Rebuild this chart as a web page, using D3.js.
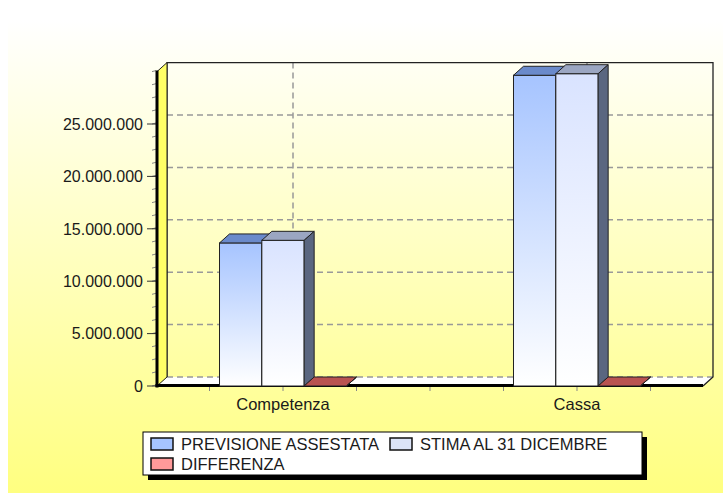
<!DOCTYPE html>
<html>
<head>
<meta charset="utf-8">
<script src="https://cdn.jsdelivr.net/npm/d3@7"></script>
<style>
  html, body { margin: 0; padding: 0; background: #ffffff; }
  svg { display: block; }
  text { font-family: "Liberation Sans", Arial, sans-serif; fill: #1a1a1a; }
</style>
</head>
<body>
<svg id="chart" width="723" height="495"></svg>
<script>
// ---- data ----
const categories = ["Competenza", "Cassa"];
const series = ["PREVISIONE ASSESTATA", "STIMA AL 31 DICEMBRE", "DIFFERENZA"];
const previsioneAssestata = [13650000, 29650000];
const stimaAl31Dicembre = [13900000, 29800000];
const differenza = [0, 0];
const yTickValues = [0, 5000000, 10000000, 15000000, 20000000, 25000000];
const yTickLabels = ["0", "5.000.000", "10.000.000", "15.000.000", "20.000.000", "25.000.000"];
const yMax = 30000000;

const seriesValues = [previsioneAssestata, stimaAl31Dicembre, differenza];

// ---- styles ----
const seriesStyle = [
  { frontTop: "#a6c4ff", frontBot: "#ffffff", top: "#6a8acb", side: "#4d6aa3", swatch: "#a6c4ff" },
  { frontTop: "#d9e3ff", frontBot: "#ffffff", top: "#9ba6c2", side: "#5a6680", swatch: "#dce4f8" },
  { frontTop: "#ff9a9a", frontBot: "#ffd0d0", top: "#b95350", side: "#8a3a38", swatch: "#ff9a9a" }
];

const svg = d3.select("#chart");
const W = 723, H = 495;
const dx = 10, dy = -9;
const left = 157, right = 703, bottom = 386;

const defs = svg.append("defs");
const bg = defs.append("linearGradient").attr("id", "bg").attr("x1", 0).attr("y1", 0).attr("x2", 0).attr("y2", 1);
bg.append("stop").attr("offset", "0%").attr("stop-color", "#ffffff");
bg.append("stop").attr("offset", "100%").attr("stop-color", "#ffff80");
seriesStyle.forEach((s, i) => {
  const g = defs.append("linearGradient").attr("id", "fg" + i).attr("x1", 0).attr("y1", 0).attr("x2", 0).attr("y2", 1);
  g.append("stop").attr("offset", "0%").attr("stop-color", s.frontTop);
  g.append("stop").attr("offset", "100%").attr("stop-color", s.frontBot);
});

// panel background
svg.append("rect").attr("x", 8).attr("y", 20).attr("width", W - 8).attr("height", 473).attr("fill", "url(#bg)");

// scales
const y = d3.scaleLinear().domain([0, yMax]).range([bottom, 71.6]);
const x0 = d3.scalePoint().domain(categories).range([left, right]).padding(0.4286);
const x1 = d3.scaleBand().domain(series).range([-63.5, 63.5]);
const bw = x1.bandwidth();
const yTop = y(yMax);

// floor
svg.append("polygon")
  .attr("points", [[left, bottom], [left + dx, bottom + dy], [right + dx, bottom + dy], [right, bottom]].map(p => p.join(",")).join(" "))
  .attr("fill", "#ffffff");

// back wall gridlines (horizontal)
svg.append("g").selectAll("line").data(yTickValues).join("line")
  .attr("x1", left + dx).attr("x2", right + dx)
  .attr("y1", d => y(d) + dy).attr("y2", d => y(d) + dy)
  .attr("stroke", "#999").attr("stroke-width", 1.5).attr("stroke-dasharray", "6,4");
// vertical gridlines at categories
svg.append("g").selectAll("line").data(categories).join("line")
  .attr("x1", d => x0(d) + dx).attr("x2", d => x0(d) + dx)
  .attr("y1", yTop + dy).attr("y2", bottom + dy)
  .attr("stroke", "#999").attr("stroke-width", 1.5).attr("stroke-dasharray", "6,4");

// back wall border
svg.append("polyline")
  .attr("points", [[left + dx, bottom + dy], [left + dx, yTop + dy], [right + dx, yTop + dy], [right + dx, bottom + dy], [right, bottom]].map(p => p.join(",")).join(" "))
  .attr("fill", "none").attr("stroke", "#222").attr("stroke-width", 1.3);

// left wall
svg.append("polygon")
  .attr("points", [[left, yTop], [left + dx, yTop + dy], [left + dx, bottom + dy], [left, bottom]].map(p => p.join(",")).join(" "))
  .attr("fill", "#ffff66").attr("stroke", "#222").attr("stroke-width", 1);

// x minor ticks
const step = x0.step();
const xt = d3.range(-1, 6).map(k => x0(categories[0]) + k * step / 4);
svg.append("g").selectAll("line").data(xt).join("line")
  .attr("x1", d => d).attr("x2", d => d).attr("y1", bottom + 1).attr("y2", bottom + 5)
  .attr("stroke", "#888").attr("stroke-width", 1);

// y minor ticks
const minor = d3.range(0, yMax + 1, 1250000);
svg.append("g").selectAll("line").data(minor).join("line")
  .attr("x1", left - 5).attr("x2", left - 1)
  .attr("y1", d => y(d)).attr("y2", d => y(d) - 1)
  .attr("stroke", "#888").attr("stroke-width", 1);
// y major ticks
svg.append("g").selectAll("line").data(yTickValues).join("line")
  .attr("x1", left - 10).attr("x2", left)
  .attr("y1", d => y(d)).attr("y2", d => y(d))
  .attr("stroke", "#333").attr("stroke-width", 1);

// axis lines
svg.append("line").attr("x1", left).attr("x2", left).attr("y1", yTop - 1).attr("y2", bottom + 1.5)
  .attr("stroke", "#000").attr("stroke-width", 3);
svg.append("line").attr("x1", left - 1.5).attr("x2", right).attr("y1", bottom - 0.5).attr("y2", bottom - 0.5)
  .attr("stroke", "#000").attr("stroke-width", 3);

// bars
const bars = svg.append("g");
categories.forEach((c, ci) => {
  series.forEach((s, si) => {
    const v = seriesValues[si][ci];
    const x = x0(c) + x1(s);
    const yt = y(v), yb = y(0);
    const st = seriesStyle[si];
    const g = bars.append("g");
    g.append("rect").attr("x", x).attr("y", yt).attr("width", bw).attr("height", Math.max(0, yb - yt))
      .attr("fill", `url(#fg${si})`).attr("stroke", "#222").attr("stroke-width", 1);
    g.append("polygon")
      .attr("points", [[x, yt], [x + dx, yt + dy], [x + bw + dx, yt + dy], [x + bw, yt]].map(p => p.join(",")).join(" "))
      .attr("fill", st.top).attr("stroke", "#222").attr("stroke-width", 1);
    g.append("polygon")
      .attr("points", [[x + bw, yt], [x + bw + dx, yt + dy], [x + bw + dx, yb + dy], [x + bw, yb]].map(p => p.join(",")).join(" "))
      .attr("fill", st.side).attr("stroke", "#222").attr("stroke-width", 1);
  });
});

// y labels
svg.append("g").selectAll("text").data(yTickValues).join("text")
  .attr("x", left - 14).attr("y", d => y(d)).attr("dy", "0.36em")
  .attr("text-anchor", "end").attr("font-size", 16)
  .text((d, i) => yTickLabels[i]);

// category labels
svg.append("g").selectAll("text").data(categories).join("text")
  .attr("x", d => x0(d)).attr("y", 410)
  .attr("text-anchor", "middle").attr("font-size", 16.5)
  .text(d => d);

// legend
const lg = svg.append("g");
lg.append("rect").attr("x", 148).attr("y", 437).attr("width", 499).attr("height", 43).attr("fill", "#000");
lg.append("rect").attr("x", 143).attr("y", 432).attr("width", 499).attr("height", 43).attr("fill", "#fff").attr("stroke", "#000").attr("stroke-width", 1);
const legPos = [[151, 444], [390, 444], [151, 464]];
series.forEach((s, i) => {
  const [lx, ly] = legPos[i];
  lg.append("rect").attr("x", lx).attr("y", ly - 6).attr("width", 22).attr("height", 12)
    .attr("fill", seriesStyle[i].swatch).attr("stroke", "#111").attr("stroke-width", 1.5);
  lg.append("text").attr("x", lx + 30).attr("y", ly).attr("dy", "0.36em").attr("font-size", 16.5).text(s);
});
</script>
</body>
</html>
